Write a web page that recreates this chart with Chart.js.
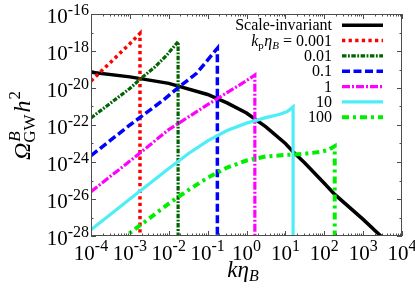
<!DOCTYPE html>
<html><head><meta charset="utf-8">
<script src="https://cdn.jsdelivr.net/npm/chart.js@4"></script>
<style>html,body{margin:0;padding:0;background:#fff}#wrap{width:415px;height:290px}</style>
</head><body>
<div id="wrap"><canvas id="c" width="415" height="290"></canvas></div>
<script>
// ---------- data ----------
const xTickValues = [1e-4, 1e-3, 1e-2, 1e-1, 1, 1e1, 1e2, 1e3, 1e4];
const yTickValues = [1e-28, 1e-26, 1e-24, 1e-22, 1e-20, 1e-18, 1e-16];
const seriesLabels = ['Scale-invariant', '0.001', '0.01', '0.1', '1', '10', '100'];

const kScaleInv   = [1e-4, 1e-3, 1e-2, 1e-1, 0.316, 1, 3.16, 10, 15.8, 31.6, 100, 186, 1000, 2850, 5000];
const omScaleInv  = [7.2e-20, 4.0e-20, 1.78e-20, 4.47e-21, 1.58e-21, 4.47e-22, 7.9e-23, 1.0e-23, 3.6e-24, 8.9e-25, 7.1e-26, 1.78e-26, 7.9e-28, 1.0e-28, 3.2e-29];

const kP0001  = [1e-4, 3.16e-4, 1e-3, 1.82e-3, 1.82e-3];
const omP0001 = [2.4e-20, 2.4e-19, 2.5e-18, 8.9e-18, 1e-40];

const kP001   = [1e-4, 1e-3, 2.0e-3, 4.47e-3, 8.9e-3, 1.74e-2, 1.74e-2];
const omP001  = [2.4e-22, 9.5e-21, 3.5e-20, 1.4e-19, 6.0e-19, 3.2e-18, 1e-40];

const kP01    = [1e-4, 1e-3, 7.2e-3, 1.95e-2, 5.2e-2, 0.178, 0.178];
const omP01   = [2.2e-24, 1.0e-22, 2.2e-21, 1.26e-20, 6.2e-20, 1.4e-18, 1e-40];

const kP1     = [1e-4, 1e-3, 1e-2, 1e-1, 1, 1.64, 1.64];
const omP1    = [2.5e-26, 1.12e-24, 5.6e-23, 1.26e-21, 2.5e-20, 5.0e-20, 1e-40];

const kP10    = [1e-4, 1e-3, 1e-2, 3.16e-2, 1e-1, 0.316, 1, 3.16, 7.2, 11.2, 15.8, 15.8];
const omP10   = [2.2e-28, 1.0e-26, 4.5e-25, 2.8e-24, 1.4e-23, 5.0e-23, 1.26e-22, 2.5e-22, 3.8e-22, 5.3e-22, 9.5e-22, 1e-40];

const kP100   = [6.3e-4, 1e-3, 3.16e-3, 1e-2, 3.16e-2, 1e-1, 0.316, 1, 3.16, 10, 31.6, 79.4, 126, 186, 186];
const omP100  = [5e-29, 1.45e-28, 8.9e-28, 5.6e-27, 3.0e-26, 1.4e-25, 5.0e-25, 1.2e-24, 2.0e-24, 2.4e-24, 2.8e-24, 3.5e-24, 4.5e-24, 7.1e-24, 1e-40];

// ---------- helpers ----------
const SERIF = "'Liberation Serif','Times New Roman',serif";
function pts(xs, ys){ return xs.map((x, i) => ({x: x, y: ys[i]})); }
function expOf(v){ return String(Math.round(Math.log10(v))); }

const styles = [
  {color:'#000000', width:3.5, dash:[]},
  {color:'#ff0000', width:3.5, dash:[3.3,3.3]},
  {color:'#006400', width:3.2, dash:[4.5,1.5,1.8,1.5]},
  {color:'#0000ff', width:3.5, dash:[8,3.5]},
  {color:'#ff00ff', width:3.2, dash:[8,2,2,2]},
  {color:'#4eeef6', width:3.2, dash:[]},
  {color:'#00ee00', width:4,   dash:[7,4,3,4]}
];
const seriesData = [
  pts(kScaleInv, omScaleInv), pts(kP0001, omP0001), pts(kP001, omP001),
  pts(kP01, omP01), pts(kP1, omP1), pts(kP10, omP10), pts(kP100, omP100)
];

const datasets = seriesData.map((d, i) => ({
  label: seriesLabels[i],
  data: d,
  borderColor: styles[i].color,
  backgroundColor: styles[i].color,
  borderWidth: styles[i].width,
  borderDash: styles[i].dash,
  borderCapStyle: 'butt',
  borderJoinStyle: 'miter',
  pointRadius: 0,
  tension: 0,
  fill: false,
  clip: 0,
  order: 7 - i
}));

function drawRuns(ctx, runs, xStart, baseY){
  let xx = xStart;
  for (const r of runs) {
    ctx.font = r.font;
    ctx.fillText(r.t, xx + (r.dx || 0), baseY + (r.dy || 0));
    xx += ctx.measureText(r.t).width + (r.kern || 0);
  }
}
function runsWidth(ctx, runs){
  let w = 0;
  for (const r of runs) { ctx.font = r.font; w += ctx.measureText(r.t).width + (r.kern || 0); }
  return w;
}

// ---------- plugins: frame + inward ticks + tick labels, legend, axis titles ----------
const frameTicks = {
  id: 'frameTicks',
  afterDatasetsDraw(chart){
    const {ctx, chartArea: a, scales: {x, y}} = chart;
    ctx.save();
    ctx.strokeStyle = '#4d4d4d';
    ctx.lineWidth = 1;
    ctx.beginPath();
    const seg = (x1, y1, x2, y2) => { ctx.moveTo(x1, y1); ctx.lineTo(x2, y2); };
    for (let e = -4; e <= 4; e++) {
      for (let m = 1; m < 10; m++) {
        const v = m * Math.pow(10, e);
        if (v > 1.0001e4) break;
        const px = Math.round(x.getPixelForValue(v)) + 0.5;
        const len = m === 1 ? 5 : 2.5;
        seg(px, a.bottom, px, a.bottom - len);
        seg(px, a.top, px, a.top + len);
      }
    }
    for (let e = -28; e <= -16; e++) {
      const py = Math.round(y.getPixelForValue(Math.pow(10, e))) + 0.5;
      const len = (e % 2 === 0) ? 5 : 2.5;
      seg(a.left, py, a.left + len, py);
      seg(a.right, py, a.right - len, py);
    }
    ctx.stroke();
    ctx.strokeRect(Math.round(a.left) + 0.5, Math.round(a.top) + 0.5,
                   Math.round(a.right - a.left) - 1, Math.round(a.bottom - a.top) - 1);

    // tick labels "10^n" from the scales' own ticks
    ctx.fillStyle = '#000';
    ctx.textBaseline = 'alphabetic';
    const FM = '21px ' + SERIF, FE = '16px ' + SERIF;
    x.ticks.forEach(t => {
      const runs = [{t:'10', font:FM}, {t:expOf(t.value), font:FE, dy:-9.5}];
      const w = runsWidth(ctx, runs);
      const px = x.getPixelForValue(t.value);
      drawRuns(ctx, runs, px - w / 2, a.bottom + 24);
    });
    y.ticks.forEach(t => {
      const runs = [{t:'10', font:FM}, {t:expOf(t.value), font:FE, dy:-8}];
      const w = runsWidth(ctx, runs);
      const py = y.getPixelForValue(t.value);
      drawRuns(ctx, runs, a.left - 2 - w, py + 8.5);
    });
    ctx.restore();
  }
};

const legendPlugin = {
  id: 'customLegend',
  afterDraw(chart){
    const ctx = chart.ctx;
    const textRight = 332, lineX1 = 342, lineX2 = 383, y0 = 25.2, dyRow = 15.35;
    const F = '16px ' + SERIF, FI = 'italic 16px ' + SERIF, FS = '11px ' + SERIF, FSI = 'italic 11px ' + SERIF;
    ctx.save();
    ctx.fillStyle = '#000';
    ctx.textBaseline = 'alphabetic';
    chart.data.datasets.forEach((ds, i) => {
      const cy = y0 + i * dyRow;
      let runs;
      if (i === 1) {
        runs = [
          {t:'k', font:FI}, {t:'p', font:FS, dy:3, kern:0.5},
          {t:'\u03B7', font:FI}, {t:'B', font:FSI, dy:3},
          {t:' = ' + ds.label, font:F}
        ];
      } else {
        runs = [{t: ds.label, font: F}];
      }
      const w = runsWidth(ctx, runs);
      drawRuns(ctx, runs, textRight - w, cy + 5);
      ctx.beginPath();
      ctx.strokeStyle = ds.borderColor;
      ctx.lineWidth = ds.borderWidth;
      ctx.setLineDash(ds.borderDash);
      ctx.lineCap = 'butt';
      ctx.moveTo(lineX1, cy); ctx.lineTo(lineX2, cy);
      ctx.stroke();
      ctx.setLineDash([]);
    });
    ctx.restore();
  }
};

const titlesPlugin = {
  id: 'axisTitles',
  afterDraw(chart){
    const ctx = chart.ctx;
    ctx.save();
    ctx.fillStyle = '#000';
    // x title: k eta_B
    const xr = [
      {t:'k\u03B7', font:'italic 23px ' + SERIF},
      {t:'B', font:'italic 16px ' + SERIF, dy:4}
    ];
    const xw = runsWidth(ctx, xr);
    drawRuns(ctx, xr, 243 - xw / 2, 277);
    // y title: Omega^B_GW h^2 (rotated)
    ctx.translate(30, 126);
    ctx.rotate(-Math.PI / 2);
    const fMain = 'italic 24px ' + SERIF;
    ctx.font = fMain;
    const wOm = ctx.measureText('\u03A9').width;
    ctx.font = '17px ' + SERIF;
    const wGW = ctx.measureText('GW').width;
    ctx.font = fMain;
    const wH = ctx.measureText('h').width;
    ctx.font = '17px ' + SERIF;
    const w2 = ctx.measureText('2').width;
    const total = wOm + wGW + 2 + wH + w2;
    let xx = -total / 2;
    ctx.font = fMain; ctx.fillText('\u03A9', xx, 0); xx += wOm;
    ctx.font = 'italic 17px ' + SERIF; ctx.fillText('B', xx + 1, -10);
    ctx.font = '17px ' + SERIF; ctx.fillText('GW', xx, 5); xx += wGW + 2;
    ctx.font = fMain; ctx.fillText('h', xx, 0); xx += wH;
    ctx.font = '17px ' + SERIF; ctx.fillText('2', xx + 1, -10);
    ctx.restore();
  }
};

new Chart(document.getElementById('c'), {
  type: 'line',
  data: { datasets },
  options: {
    responsive: false,
    animation: false,
    devicePixelRatio: 1,
    layout: { padding: { top: 14, right: 13, left: 0, bottom: 0 } },
    plugins: { legend: { display: false }, tooltip: { enabled: false }, title: { display: false } },
    scales: {
      x: {
        type: 'logarithmic', min: 1e-4, max: 1e4,
        grid: { display: false, drawTicks: false },
        border: { display: false },
        afterBuildTicks: s => { s.ticks = xTickValues.map(v => ({ value: v })); },
        afterFit: s => { s.height = 54; s.paddingLeft = 0; s.paddingRight = 0; },
        ticks: { display: false }
      },
      y: {
        type: 'logarithmic', min: 1e-28, max: 1e-16,
        grid: { display: false, drawTicks: false },
        border: { display: false },
        afterBuildTicks: s => { s.ticks = yTickValues.map(v => ({ value: v })); },
        afterFit: s => { s.width = 91; s.paddingTop = 0; s.paddingBottom = 0; },
        ticks: { display: false }
      }
    }
  },
  plugins: [frameTicks, legendPlugin, titlesPlugin]
});
</script>
</body></html>
